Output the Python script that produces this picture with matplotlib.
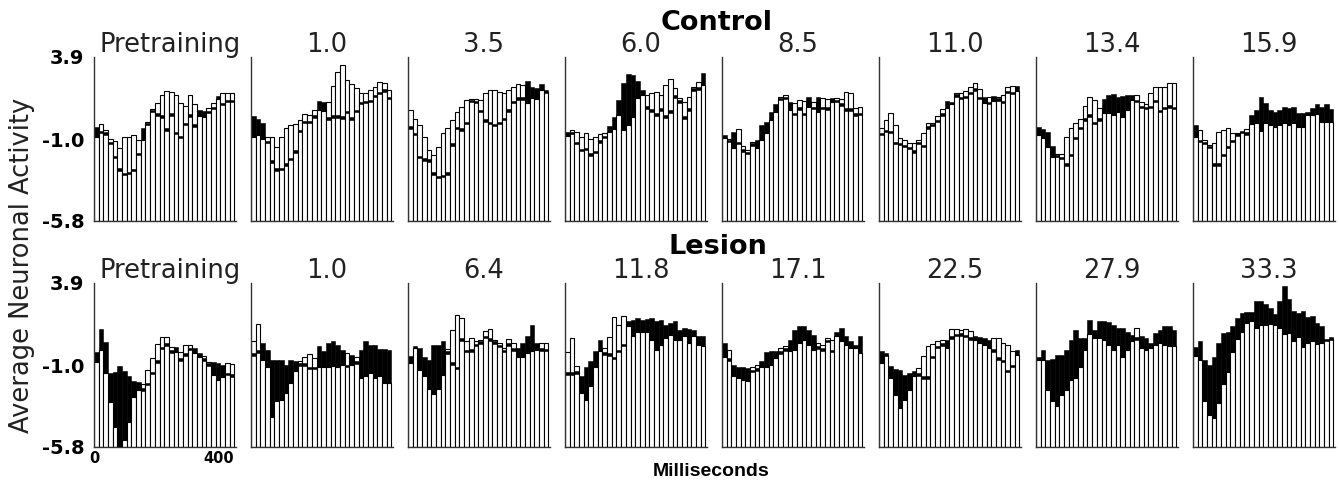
import matplotlib.pyplot as plt
import numpy as np

# 30 bins of 15 ms
bin_ms = 15
n_bins = 30
times = np.arange(n_bins) * bin_ms

ymin, ymax = -5.8, 3.9
ytick_vals = [3.9, -1.0, -5.8]
ytick_text = ["3.9", "-1.0", "-5.8"]
xtick_vals = [0, 400]
xtick_text = ["0", "400"]

control_sessions = ["Pretraining", "1.0", "3.5", "6.0", "8.5", "11.0", "13.4", "15.9"]
lesion_sessions = ["Pretraining", "1.0", "6.4", "11.8", "17.1", "22.5", "27.9", "33.3"]

# ---- Control: open bar height and solid level for each bin ----
c0_bar = [-0.85, -0.06, -0.42, -0.97, -1.05, -1.5, -0.85, -0.81, -0.73, -1.0,
          -1.0, 0.08, 0.81, 1.2, 1.65, 1.89, 1.85, 1.65, 1.16, 1.0,
          1.65, 1.12, 0.41, 0.37, 0.87, 1.16, 1.4, 1.79, 1.79, 1.75]
c0_level = [-0.22, -0.45, -0.55, -1.1, -1.95, -2.68, -2.94, -2.88, -2.7, -1.75,
            -0.32, 0.02, 0.77, 0.57, 0.47, -0.32, 0.57, -0.51, -0.77, 0.02,
            0.51, -0.08, 0.77, 0.73, 0.73, 0.96, 1.59, 1.2, 1.36, 1.36]

c1_bar = [-0.81, -0.71, -0.96, -0.81, -0.85, -1.4, -0.81, -0.32, -0.12, -0.06,
          0.18, 0.53, 0.47, 0.77, 0.77, 0.73, 1.26, 2.19, 3.03, 3.43,
          2.54, 2.31, 2.05, 1.75, 1.79, 1.95, 2.11, 2.44, 2.35, 1.95]
c1_level = [0.41, 0.22, -0.02, -1.04, -2.19, -2.68, -2.64, -2.38, -2.05, -1.6,
            -0.41, 0.14, 0.14, 0.47, 1.32, 1.26, 0.34, 0.47, 0.47, 0.41,
            0.73, 0.34, 0.77, 1.26, 1.32, 1.36, 1.66, 1.85, 1.99, 1.56]

c2_bar = [0.77, 0.24, -0.12, -0.85, -1.6, -1.89, -1.4, -0.61, -0.28, 0.18,
          0.67, 0.93, 1.36, 1.4, 1.4, 1.36, 1.79, 1.95, 1.95, 1.85,
          1.75, 1.95, 2.11, 2.31, 2.25, 1.2, 1.46, 1.4, 1.95, 1.85]
c2_level = [-0.18, -0.57, -1.95, -2.09, -2.15, -2.93, -3.13, -3.07, -2.93, -1.2,
            -0.22, -0.32, 0.08, 1.36, 1.32, 0.77, 0.22, 0.08, -0.06, 0.08,
            0.32, 0.81, 1.32, 1.52, 1.52, 2.5, 2.11, 2.05, 2.31, 1.95]

c3_bar = [-0.77, -0.42, -0.56, -0.85, -0.62, -0.97, -0.81, -0.65, -0.58, -0.54,
          -0.38, 0.47, -0.42, -0.12, 0.37, 1.45, 1.65, 1.65, 1.75, 1.85,
          1.65, 2.24, 2.58, 2.04, 1.45, 1.26, 1.55, 2.1, 2.44, 2.24]
c3_level = [-0.52, -0.52, -1.11, -1.52, -1.48, -1.8, -1.64, -1.01, -0.77, -0.2,
            0.37, 1.35, 2.34, 2.87, 2.83, 2.48, 1.95, 1.0, 0.8, 0.57,
            0.86, 0.47, 0.76, 1.65, 1.35, 0.41, 0.86, 2.04, 2.1, 2.97]

c4_bar = [-0.91, -0.96, -1.5, -0.37, -1.36, -1.6, -1.1, -1.5, -1.0, -0.61,
          0.18, 0.67, 1.56, 1.66, 0.77, 1.16, 1.36, 1.32, 0.97, 1.26,
          0.67, 1.5, 1.4, 1.26, 1.46, 1.42, 1.85, 1.75, 0.87, 0.93]
c4_level = [-0.71, -1.0, -0.51, -1.1, -1.56, -1.7, -1.2, -1.0, -0.12, 0.08,
            0.67, 1.12, 1.5, 1.56, 1.26, 0.61, 0.93, 0.61, 1.56, 0.97,
            1.56, 0.97, 0.93, 1.46, 1.36, 1.16, 0.87, 0.87, 0.57, 0.6]

c5_bar = [-0.32, 0.18, 0.57, -0.12, -0.91, -1.0, -1.16, -1.2, -1.0, -0.57,
          -0.02, 0.02, 0.41, 0.81, 0.87, 1.12, 1.75, 1.75, 1.91, 2.11,
          2.35, 1.99, 1.2, 1.52, 1.32, 1.56, 1.66, 2.11, 2.19, 1.91]
c5_level = [-0.57, -0.41, -0.45, -1.1, -1.16, -1.3, -1.4, -1.6, -1.1, -1.3,
            -0.18, -0.06, 0.18, 0.57, 1.3, 1.26, 1.69, 1.56, 1.62, 1.85,
            2.05, 1.56, 1.56, 1.26, 1.62, 1.46, 1.32, 1.91, 1.85, 2.19]

c6_bar = [-0.71, -0.91, -1.4, -1.99, -1.83, -1.83, -0.85, -0.32, 0.02, 0.22,
          1.01, 1.52, 1.36, 0.87, 0.61, 0.57, 0.47, 0.67, 0.38, 0.77,
          1.36, 1.66, 1.26, 1.12, 1.75, 2.11, 2.11, 2.15, 2.38, 2.38]
c6_level = [-0.22, -0.37, -0.51, -1.36, -1.89, -1.99, -2.38, -1.83, -0.81, -0.22,
            0.28, 0.53, 0.08, 0.28, 1.4, 1.66, 1.71, 1.56, 1.6, 1.66,
            1.66, 1.36, 1.01, 0.97, 1.01, 1.36, 0.77, 0.97, 1.06, 0.97]

c7_bar = [-0.81, -0.41, -1.0, -1.3, -1.16, -0.51, -0.41, -0.32, -0.61, -0.57,
          -0.51, -0.37, -0.06, 0.02, -0.45, -0.02, -0.12, -0.22, -0.12, -0.02,
          -0.12, -0.02, -0.22, -0.22, 0.47, 0.47, 0.53, 0.08, 0.08, 0.08]
c7_level = [-0.12, -1.0, -1.1, -1.36, -2.38, -2.38, -1.83, -1.36, -1.0, -0.61,
            -0.45, -0.55, 0.47, 0.77, 1.56, 1.16, 0.77, 0.67, 0.77, 0.93,
            0.87, 0.93, 0.61, 0.61, 0.67, 0.87, 1.12, 0.97, 1.12, 0.81]

# ---- Lesion ----
l0_bar = [-0.75, -0.07, -1.43, -3.12, -4.6, -5.75, -5.38, -4.3, -2.82, -2.43,
          -2.07, -1.25, -0.56, 0.29, 0.72, 0.68, 0.13, -0.16, -0.16, 0.23,
          0.23, -0.26, -0.46, -0.42, -0.75, -1.54, -1.84, -1.64, -0.85, -0.9]
l0_level = [-0.16, 1.16, 0.43, -1.41, -1.35, -1.01, -1.29, -1.6, -1.88, -1.94,
            -2.33, -1.99, -1.35, -0.66, 0.13, 0.33, -0.07, 0.13, -0.56, -0.26,
            0.07, 0.03, -0.26, -0.56, -0.85, -0.75, -0.85, -0.95, -1.4, -1.5]

l1_bar = [0.44, 1.46, -0.64, -1.04, -4.0, -3.1, -3.0, -2.6, -2.02, -1.33,
          -0.74, -0.49, -0.29, -0.54, -1.04, -1.04, -1.04, -1.0, -1.04, -0.94,
          -0.25, -0.94, -0.45, -1.73, -1.63, -1.43, -1.73, -1.63, -2.02, -2.02]
l1_level = [-0.25, -0.09, 0.34, -0.05, -0.64, -0.68, -0.68, -0.94, -0.68, -0.74,
            -0.84, -0.84, -1.04, -1.04, 0.15, -0.15, 0.34, 0.44, 0.24, -0.09,
            -0.94, -0.35, -0.74, -0.05, 0.44, 0.24, 0.24, -0.01, -0.01, -0.05]

l2_bar = [-0.84, 0.05, -1.23, -1.63, -2.38, -2.65, -2.38, -1.53, -0.01, 1.13,
          2.02, 1.82, 0.44, 0.64, 0.44, 0.54, 1.09, 1.17, 0.54, 0.34,
          0.05, 0.58, 0.38, -0.45, -0.45, -0.25, -0.15, -0.05, 0.38, 0.38]
l2_level = [-0.41, 0.18, 0.05, -0.45, -0.68, 0.24, 0.24, 0.44, -0.15, -0.8,
            -1.04, 0.64, -0.05, -0.01, 0.3, 0.44, 0.77, 0.64, 0.44, 0.24,
            -0.05, 0.34, 0.05, 0.05, 0.34, 0.74, 1.43, 0.34, 0.05, 0.0]

l3_bar = [-0.21, 0.64, -1.0, -2.61, -3.0, -2.22, -1.04, -0.15, 0.05, 0.7,
          1.88, 1.43, 1.92, 1.33, 0.74, 1.03, 1.03, 1.03, 0.54, -0.05,
          0.24, 0.64, 0.84, 0.54, 0.54, 0.74, 0.34, 0.74, 0.24, 0.18]
l3_level = [-1.39, -1.39, -1.33, -1.63, -1.04, -0.74, -0.15, 0.54, -0.21, -0.25,
            -0.45, -0.05, 0.3, 1.68, 1.72, 1.82, 1.72, 1.76, 1.82, 1.68,
            1.72, 1.43, 1.53, 1.63, 1.13, 1.23, 1.17, 1.13, 0.74, 0.74]

l4_bar = [-0.45, -0.05, -1.63, -1.73, -1.83, -1.92, -1.04, -0.94, -1.04, -1.04,
          -0.94, -0.55, 0.05, 0.15, -0.15, -0.05, 0.34, 0.54, 0.24, -0.05,
          0.34, 0.24, 0.64, 0.54, 0.74, 0.44, 0.24, 0.05, 0.05, -0.25]
l4_level = [0.34, -0.55, -0.94, -1.04, -1.04, -1.14, -1.23, -1.14, -0.74, -0.21,
            -0.15, -0.15, -0.15, 0.05, 0.54, 1.13, 1.37, 1.33, 1.13, 0.84,
            0.15, 0.05, 0.54, -0.05, 1.03, 1.23, 0.74, 0.44, 0.24, 0.74]

l5_bar = [-0.84, -0.35, -1.73, -2.71, -3.5, -3.0, -2.42, -1.63, -1.14, -0.41,
          0.15, 0.28, 0.44, 0.5, 0.05, 1.17, 1.17, 1.13, 1.17, 1.09,
          0.54, 0.34, 0.24, 0.05, 0.64, 0.64, 0.34, 0.24, -0.15, -0.35]
l5_level = [-0.15, -0.25, -1.0, -1.2, -1.23, -1.53, -1.43, -1.33, -1.43, -1.63,
            -1.63, -0.41, 0.18, 0.34, 0.5, 0.74, 0.89, 0.93, 0.84, 0.7,
            0.74, 0.7, 0.64, 0.54, -0.01, -0.49, -0.64, -1.23, -0.94, -0.09]

l6_bar = [-0.64, -0.64, -2.42, -3.1, -3.4, -2.71, -2.42, -1.83, -1.73, -1.04,
          -0.05, 0.89, 0.64, 0.64, 0.54, 0.24, -0.05, 0.24, -0.45, -0.05,
          0.44, 1.23, 0.05, -0.05, 0.05, 0.24, 0.34, 0.24, 0.18, 0.2]
l6_level = [-0.45, -0.09, -0.64, -0.6, -0.35, -0.35, -0.05, 0.54, 1.13, 0.64,
            0.64, 1.72, 1.13, 1.68, 1.68, 1.57, 1.43, 1.23, 1.23, 1.03,
            0.84, 0.7, 0.78, 0.64, 0.34, 0.93, 1.13, 1.33, 1.33, 1.1]

l7_bar = [-0.41, -0.65, -3.05, -3.9, -4.1, -3.21, -2.07, -1.34, -0.16, 0.57,
          1.03, 1.52, 1.68, 1.22, 1.42, 1.42, 1.48, 1.42, 1.22, 0.89,
          0.93, 0.44, 0.73, 0.14, 0.38, 0.44, 0.3, 0.38, 0.5, 0.6]
l7_level = [0.14, 0.44, -0.65, -0.94, -0.45, 0.34, 0.97, 1.03, 1.36, 1.81,
            2.11, 2.21, 2.21, 2.86, 2.86, 2.66, 2.41, 2.07, 2.86, 3.73,
            2.94, 2.27, 2.15, 2.27, 1.91, 1.95, 1.52, 1.36, 0.6, 0.7]

control_bars = [c0_bar, c1_bar, c2_bar, c3_bar, c4_bar, c5_bar, c6_bar, c7_bar]
control_levels = [c0_level, c1_level, c2_level, c3_level, c4_level, c5_level, c6_level, c7_level]
lesion_bars = [l0_bar, l1_bar, l2_bar, l3_bar, l4_bar, l5_bar, l6_bar, l7_bar]
lesion_levels = [l0_level, l1_level, l2_level, l3_level, l4_level, l5_level, l6_level, l7_level]

tick_h = 0.15  # thickness of the solid mark when it sits inside an open bar

W, H = 1339, 482
fig = plt.figure(figsize=(W / 100, H / 100), dpi=100)


def draw_panel(ax, bars, level, title):
    bars = np.array(bars)
    level = np.array(level)
    ax.bar(times, bars - ymin, bottom=ymin, width=bin_ms, align="edge",
           facecolor="white", edgecolor="black", linewidth=0.8)
    lo = np.minimum(bars, level - tick_h)
    ax.bar(times, level - lo, bottom=lo, width=bin_ms, align="edge",
           color="black", edgecolor="black", linewidth=0.4)
    ax.set_xlim(0, 455)
    ax.set_ylim(ymin, ymax)
    for s in ["top", "right"]:
        ax.spines[s].set_visible(False)
    for s in ["left", "bottom"]:
        ax.spines[s].set_color("#333333")
        ax.spines[s].set_linewidth(1.0)
    ax.set_xticks([])
    ax.set_yticks([])
    ax.tick_params(length=0)
    ax.text(0.535, 1.03, title, transform=ax.transAxes, ha="center",
            va="baseline", fontsize=18.5, color="#222222")


rows = [(control_sessions, control_bars, control_levels, 57),
        (lesion_sessions, lesion_bars, lesion_levels, 283)]
for r, (sessions, bar_sets, level_sets, top_px) in enumerate(rows):
    for k in range(8):
        left = (94 + 157 * k) / W
        bottom = (H - top_px - 164) / H
        ax = fig.add_axes([left, bottom, 142 / W, 164 / H])
        draw_panel(ax, bar_sets[k], level_sets[k], sessions[k])
        if k == 0:
            ax.set_yticks(ytick_vals)
            ax.set_yticklabels(ytick_text, fontsize=14, fontweight="bold")
            ax.tick_params(axis="y", length=0, pad=7)
        if k == 0 and r == 1:
            ax.set_xticks(xtick_vals)
            ax.set_xticklabels(xtick_text, fontsize=10.5, fontweight="bold")
            ax.tick_params(axis="x", length=0, pad=3)

fig.text(717 / W, 1 - 23.5 / H, "Control", ha="center", va="center",
         fontsize=19.5, fontweight="bold")
fig.text(718 / W, 1 - 247.5 / H, "Lesion", ha="center", va="center",
         fontsize=19.5, fontweight="bold")
fig.text(22 / W, 1 - 265 / H, "Average Neuronal Activity", rotation=90,
         ha="center", va="center", fontsize=18.5, color="#222222")
fig.text(711 / W, 1 - 471 / H, "Milliseconds", ha="center", va="center",
         fontsize=14, fontweight="bold", fontstretch="condensed",
         family=["Liberation Sans Narrow", "Liberation Sans"])

fig.savefig("out.png", dpi=100)
